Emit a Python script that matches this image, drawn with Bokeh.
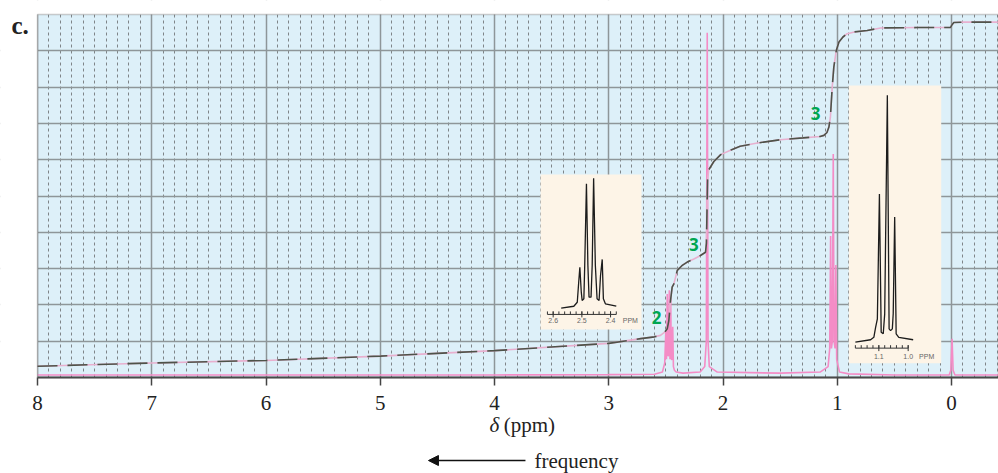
import numpy as np
from bokeh.plotting import figure
from bokeh.models import Range1d, FixedTicker, Label, Arrow, NormalHead, BoxAnnotation
from bokeh.core.properties import value
from bokeh.embed import file_html
from bokeh.resources import INLINE

# ---------------- data ----------------
x_ticks = [8, 7, 6, 5, 4, 3, 2, 1, 0]
y_grid = [1, 2, 3, 4, 5, 6, 7, 8, 9]

# main 1H spectrum (pink)
spec_ppm = [8.0, 6.0, 4.0, 3.0, 2.6, 2.53, 2.51, 2.50, 2.495, 2.488, 2.482, 2.476, 2.47, 2.464, 2.458,
            2.452, 2.446, 2.44, 2.434, 2.425, 2.41, 2.35, 2.2, 2.16, 2.146, 2.138, 2.131, 2.12, 2.05,
            1.5, 1.15, 1.08, 1.066, 1.058, 1.051, 1.043, 1.035, 1.028, 1.019, 1.012, 1.005, 0.98,
            0.9, 0.5, 0.02, 0.006, -0.005, -0.014, -0.03, -0.42]
spec_int = [0.07, 0.07, 0.07, 0.08, 0.09, 0.15, 0.4, 1.3, 0.5, 2.3, 0.6, 0.6, 2.4, 0.5, 2.2,
            0.5, 0.5, 1.4, 0.3, 0.2, 0.15, 0.12, 0.15, 0.3, 1.0, 9.5, 1.0, 0.3, 0.15,
            0.12, 0.15, 0.3, 0.8, 3.9, 0.8, 1.0, 6.16, 1.0, 0.8, 3.1, 0.5, 0.15,
            0.1, 0.07, 0.07, 0.2, 1.07, 0.2, 0.07, 0.07]

# integration trace
integral_ppm = [8.0, 7.0, 6.0, 5.0, 4.0, 3.0, 2.72, 2.6, 2.547, 2.51, 2.488, 2.474, 2.46, 2.445,
                2.43, 2.40, 2.36, 2.313, 2.25, 2.197, 2.153, 2.145, 2.14, 2.135, 2.125, 2.08, 2.02,
                1.93, 1.85, 1.7, 1.5, 1.3, 1.15, 1.117, 1.09, 1.073, 1.06, 1.044, 1.03, 1.009,
                0.985, 0.95, 0.913, 0.85, 0.738, 0.62, 0.3, 0.009, -0.005, -0.02, -0.1, -0.42]
integral_val = [0.31, 0.40, 0.47, 0.59, 0.74, 0.94, 1.07, 1.12, 1.16, 1.25, 1.34, 1.57, 2.1, 2.49,
                2.58, 2.95, 3.08, 3.18, 3.27, 3.36, 3.45, 3.7, 4.6, 5.45, 5.72, 5.95, 6.14,
                6.27, 6.37, 6.46, 6.55, 6.6, 6.64, 6.67, 6.75, 6.9, 7.17, 8.0, 8.55, 9.0,
                9.24, 9.38, 9.47, 9.52, 9.56, 9.63, 9.64, 9.64, 9.72, 9.78, 9.79, 9.79]

# integration numbers
step_labels = ["2", "3", "3"]
step_ppm = [2.582, 2.256, 1.19]
step_y = [1.65, 3.66, 7.27]

# inset 1: quartet near 2.47 ppm
inset1_ppm = [2.572, 2.528, 2.516, 2.511, 2.507, 2.502, 2.499, 2.493, 2.49, 2.484, 2.479, 2.475,
              2.468, 2.464, 2.459, 2.453, 2.447, 2.44, 2.435, 2.429, 2.425, 2.418, 2.38]
inset1_int = [0.0, 0.015, 0.046, 0.2, 0.315, 0.123, 0.059, 0.072, 0.33, 0.957, 0.33, 0.085,
              0.085, 0.33, 1.0, 0.33, 0.072, 0.059, 0.25, 0.375, 0.072, 0.034, 0.015]
inset1_labels = ["2.6", "2.5", "2.4"]
inset1_label_ppm = [2.6, 2.5, 2.4]

# inset 2: triplet near 1.07 ppm
inset2_ppm = [1.18, 1.128, 1.117, 1.111, 1.105, 1.098, 1.092, 1.085, 1.08, 1.071, 1.065, 1.06,
              1.054, 1.051, 1.046, 1.041, 1.032, 0.983]
inset2_int = [0.0, 0.01, 0.02, 0.06, 0.095, 0.60, 0.04, 0.034, 0.115, 1.0, 0.054, 0.047,
              0.054, 0.115, 0.507, 0.034, 0.02, 0.01]
inset2_labels = ["1.1", "1.0"]
inset2_label_ppm = [1.1, 1.0]

# ---------------- layout constants ----------------
PX_X = 114.25          # px per ppm
PX_Y = 36.3            # px per y unit
X_START = 8 + 37 / PX_X
X_END = 8 - 961 / PX_X
Y_TOP = 10 + 14 / PX_Y
Y_BOT = -(473 - 377) / PX_Y

p = figure(width=998, height=473, x_range=Range1d(X_START, X_END), y_range=Range1d(Y_BOT, Y_TOP),
           output_backend="svg", toolbar_location=None,
           min_border_left=0, min_border_right=0, min_border_top=0, min_border_bottom=0)
p.background_fill_color = "white"
p.border_fill_color = "white"
p.outline_line_color = None

# plotting-area background (below grid)
p.add_layout(BoxAnnotation(left=8, right=X_END, bottom=0, top=10, fill_color="#ddf0f9",
                           fill_alpha=1, line_color=None, level="image"))

minor = [round(v, 2) for v in np.arange(-0.4, 8.0001, 0.1) if abs(v - round(v)) > 1e-6]
p.xgrid.ticker = FixedTicker(ticks=x_ticks, minor_ticks=minor)
p.xgrid.grid_line_color = "#8e9699"
p.xgrid.grid_line_width = 1.5
p.xgrid.minor_grid_line_color = "#7f8588"
p.xgrid.minor_grid_line_dash = "3 3"
p.xgrid.minor_grid_line_width = 1
p.ygrid.ticker = FixedTicker(ticks=y_grid)
p.ygrid.grid_line_color = "#8e9699"
p.ygrid.grid_line_width = 1.5

# white masks outside plotting area (over grid lines)
for kw in (dict(left=X_START + 1, right=X_END - 1, bottom=10, top=Y_TOP + 1),
           dict(left=X_START + 1, right=X_END - 1, bottom=Y_BOT - 1, top=0),
           dict(left=X_START + 1, right=8, bottom=Y_BOT - 1, top=Y_TOP + 1)):
    p.add_layout(BoxAnnotation(fill_color="white", fill_alpha=1, line_color=None,
                               level="underlay", **kw))

p.yaxis.visible = False
p.xaxis.fixed_location = 0
p.xaxis.bounds = (X_END, 8)
p.xaxis.ticker = FixedTicker(ticks=x_ticks)
p.xaxis.axis_line_width = 2
p.xaxis.axis_line_color = "#444444"
p.xaxis.major_tick_line_color = "#444444"
p.xaxis.major_tick_line_width = 1.5
p.xaxis.major_tick_out = 8
p.xaxis.major_tick_in = 0
p.xaxis.minor_tick_line_color = None
p.xaxis.major_label_text_font = "Liberation Serif"
p.xaxis.major_label_text_font_size = "21px"
p.xaxis.major_label_text_color = "#222222"
p.xaxis.major_label_standoff = 10

# spectrum
p.line(spec_ppm, spec_int, color="#f48cc6", line_width=1.6)
# integral
p.line(integral_ppm, integral_val, color="#e8b0cf", line_width=1.6)
p.line(integral_ppm, integral_val, color="#4e5349", line_width=1.6, line_dash="20 10")

# frame border
p.add_layout(BoxAnnotation(left=8, right=X_END, bottom=0, top=10, fill_color=None,
                           line_color="#555555", line_width=1.5, level="overlay"))

# integration numbers
for t, xx, yy in zip(step_labels, step_ppm, step_y):
    p.add_layout(Label(x=xx, y=yy, text=t, text_align="center", text_baseline="middle",
                       text_font="Open Sans", text_font_style="bold", text_font_size="17px",
                       text_color="#00a651"))


def add_inset(x_src, y_src, x_tgt, y_tgt, ppm, inten, ticks, axis_y, tick_len,
              lab_text, lab_ppm, lab_y, ppm_x):
    sub = p.subplot(x_source=Range1d(*x_src), y_source=Range1d(*y_src),
                    x_target=Range1d(*x_tgt), y_target=Range1d(*y_tgt))
    sub.quad(left=x_src[0], right=x_src[1], bottom=y_src[0], top=y_src[1],
             fill_color="#fdf4e7", line_color=None)
    sub.line(ppm, inten, color="#1c1c1c", line_width=1.3)
    sub.segment(x0=ticks[0], x1=ticks[-1], y0=axis_y, y1=axis_y, color="#333333", line_width=1)
    sub.segment(x0=ticks, x1=ticks, y0=[axis_y] * len(ticks),
                y1=[axis_y + tick_len] * len(ticks), color="#333333", line_width=1)
    sub.segment(x0=lab_ppm, x1=lab_ppm, y0=[axis_y - tick_len] * len(lab_ppm),
                y1=[axis_y + tick_len] * len(lab_ppm), color="#333333", line_width=1)
    sub.text(x=lab_ppm, y=[lab_y] * len(lab_ppm), text=lab_text, text_align="center",
             text_baseline="middle", text_font=value("Liberation Sans"),
             text_font_size="7px", text_color="#666666")
    sub.text(x=[ppm_x], y=[lab_y], text=["PPM"], text_align="center",
             text_baseline="middle", text_font=value("Liberation Sans"),
             text_font_size="7px", text_color="#666666")


t1 = [round(v, 2) for v in np.arange(2.38, 2.6201, 0.02)]
add_inset((2.644, 2.292), (-0.164, 1.028), (3.597, 2.713), (1.322, 5.592),
          inset1_ppm, inset1_int, t1, -0.048, 0.023,
          inset1_labels, inset1_label_ppm, -0.095, 2.331)
t2 = [round(v, 2) for v in np.arange(1.0, 1.1801, 0.02)]
add_inset((1.2024, 0.8874), (-0.085, 1.04), (0.899, 0.090), (0.394, 8.044),
          inset2_ppm, inset2_int, t2, -0.024, 0.012,
          inset2_labels, inset2_label_ppm, -0.058, 0.937)

# axis title, frequency arrow, panel letter
p.add_layout(Label(x=4.044, y=-1.322, text="δ", text_align="left", text_baseline="middle",
                   text_font="Liberation Serif", text_font_style="italic",
                   text_font_size="21px", text_color="#222222"))
p.add_layout(Label(x=3.92, y=-1.322, text="(ppm)", text_align="left", text_baseline="middle",
                   text_font="Liberation Serif", text_font_size="21px", text_color="#222222"))
p.add_layout(Arrow(x_start=3.729, y_start=-2.287, x_end=4.578, y_end=-2.287,
                   line_color="#111111", line_width=1.5,
                   end=NormalHead(size=10, fill_color="#111111", line_color="#111111")))
p.add_layout(Label(x=3.65, y=-2.287, text="frequency", text_align="left", text_baseline="middle",
                   text_font="Liberation Serif", text_font_size="21px", text_color="#222222"))
p.add_layout(Label(x=8.2276, y=9.697, text="c.", text_align="left", text_baseline="alphabetic",
                   text_font="Liberation Serif", text_font_style="bold",
                   text_font_size="25px", text_color="#222222"))

open("out.html", "w").write(file_html(p, INLINE))
